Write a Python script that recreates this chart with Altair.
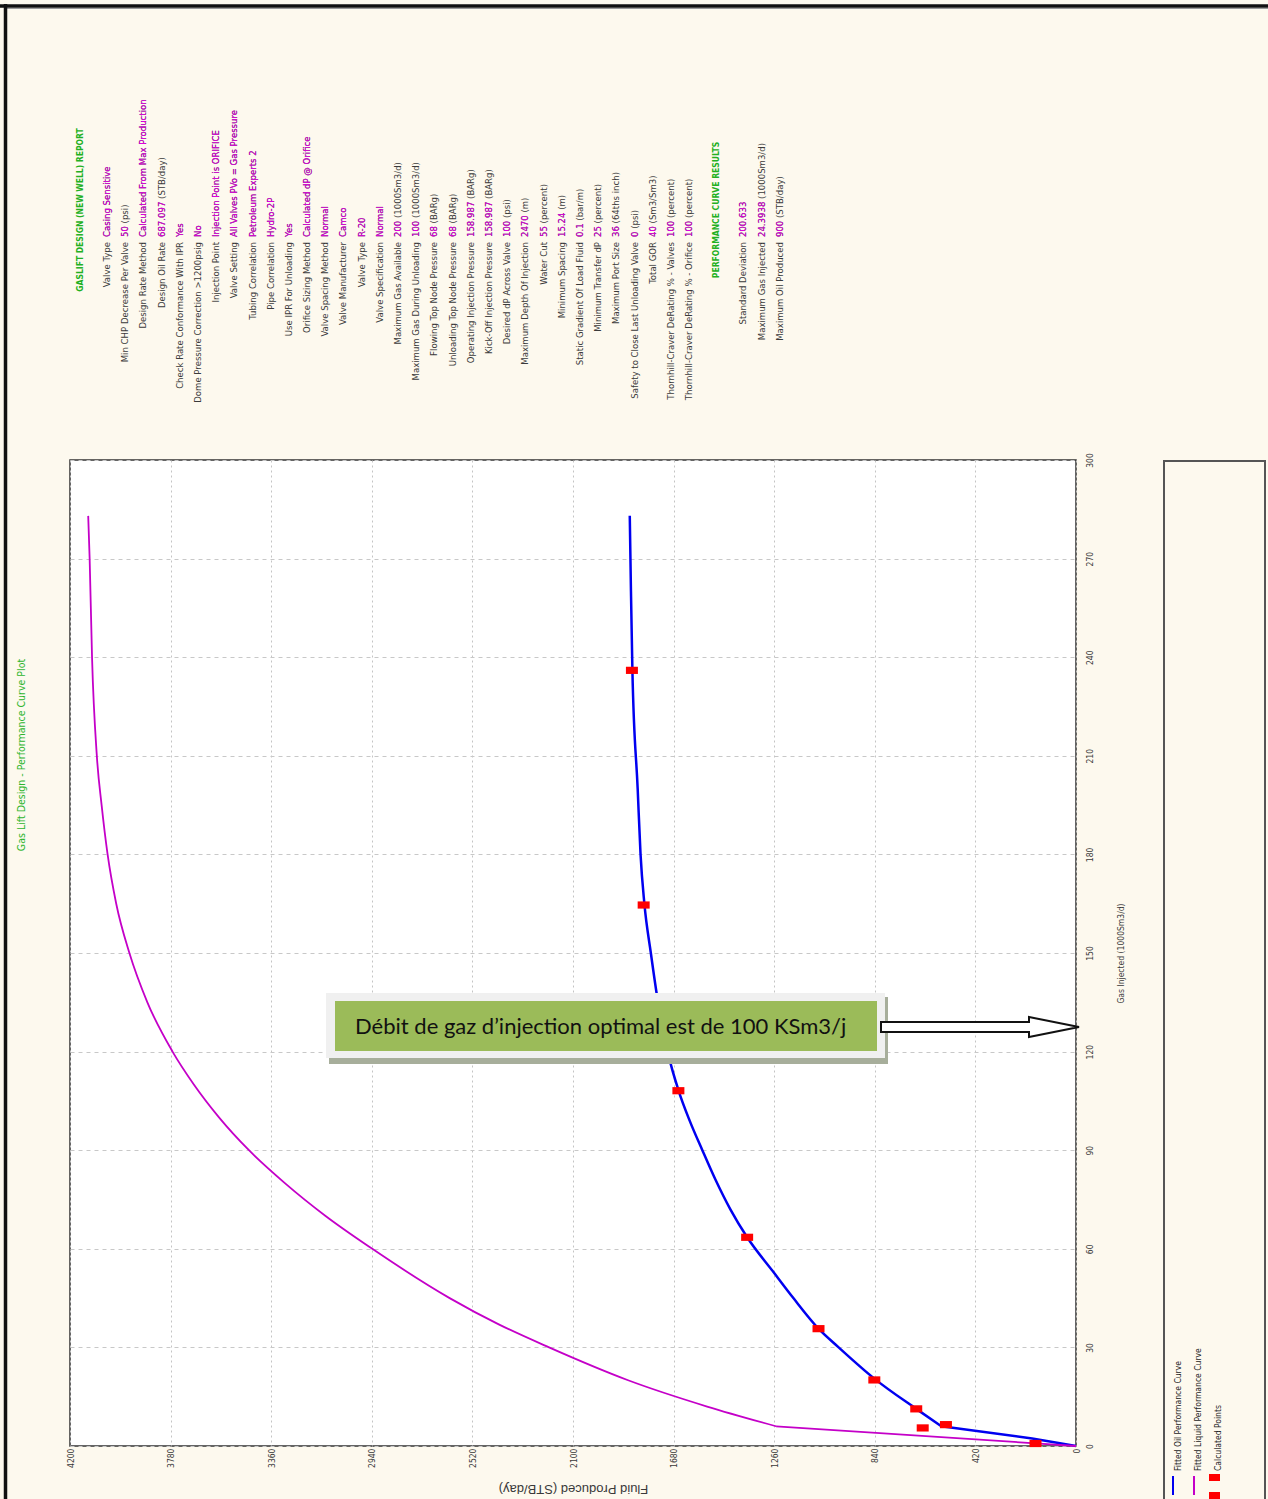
import altair as alt
import pandas as pd

# ---- fitted performance curves (gas injected in 1000Sm3/d, rate in STB/day) ----
oil_gas = [0, 2.3, 6.0, 11.3, 20.5, 30, 35.7, 45, 53, 63.5, 72, 81, 90, 99, 108.3,
           120, 135, 150, 165, 180, 200, 236, 260, 283]
oil_rate = [0, 183, 562, 667, 842, 991, 1075, 1180, 1264, 1373, 1443, 1505, 1560, 1613, 1660,
            1705, 1745, 1775, 1802, 1818, 1830, 1852, 1858, 1863]

liq_gas = [0, 6.0, 12, 20, 30, 37, 45, 60, 70, 80, 90, 100, 110, 120,
           135, 150, 165, 180, 195, 210, 240, 270, 283]
liq_rate = [0, 1252, 1540, 1870, 2200, 2410, 2615, 2938, 3133, 3303, 3453, 3578, 3683, 3772,
            3877, 3952, 4007, 4043, 4068, 4088, 4108, 4118, 4124]

# calculated points
calc_gas = [0.76, 5.5, 6.5, 11.3, 20.1, 35.7, 63.5, 108.1, 164.6, 236]
calc_oil = [169, 640, 543, 667, 842, 1075, 1373, 1660, 1805, 1854]

# first fitted point: the curves are drawn straight from the origin up to it
KNEE_GAS = 6.0

fluid_ticks = [0, 420, 840, 1260, 1680, 2100, 2520, 2940, 3360, 3780, 4200]
gas_ticks = [0, 30, 60, 90, 120, 150, 180, 210, 240, 270, 300]

# ---- report text ----
report_title = "GASLIFT DESIGN (NEW WELL) REPORT"
design_labels = [
    "Valve Type", "Min CHP Decrease Per Valve", "Design Rate Method", "Design Oil Rate",
    "Check Rate Conformance With IPR", "Dome Pressure Correction >1200psig", "Injection Point",
    "Valve Setting", "Tubing Correlation", "Pipe Correlation", "Use IPR For Unloading",
    "Orifice Sizing Method", "Valve Spacing Method", "Valve Manufacturer", "Valve Type",
    "Valve Specification", "Maximum Gas Available", "Maximum Gas During Unloading",
    "Flowing Top Node Pressure", "Unloading Top Node Pressure", "Operating Injection Pressure",
    "Kick-Off Injection Pressure", "Desired dP Across Valve", "Maximum Depth Of Injection",
    "Water Cut", "Minimum Spacing", "Static Gradient Of Load Fluid", "Minimum Transfer dP",
    "Maximum Port Size", "Safety to Close Last Unloading Valve", "Total GOR",
    "Thornhill-Craver DeRating % - Valves", "Thornhill-Craver DeRating % - Orifice",
]
design_values = [
    "Casing Sensitive", "50", "Calculated From Max Production", "687.097", "Yes", "No",
    "Injection Point is ORIFICE", "All Valves PVo = Gas Pressure", "Petroleum Experts 2",
    "Hydro-2P", "Yes", "Calculated dP @ Orifice", "Normal", "Camco", "R-20", "Normal",
    "200", "100", "68", "68", "158.987", "158.987", "100", "2470", "55", "15.24", "0.1",
    "25", "36", "0", "40", "100", "100",
]
design_units = [
    "", "(psi)", "", "(STB/day)", "", "", "", "", "", "", "", "", "", "", "", "",
    "(1000Sm3/d)", "(1000Sm3/d)", "(BARg)", "(BARg)", "(BARg)", "(BARg)", "(psi)", "(m)",
    "(percent)", "(m)", "(bar/m)", "(percent)", "(64ths inch)", "(psi)", "(Sm3/Sm3)",
    "(percent)", "(percent)",
]
results_title = "PERFORMANCE CURVE RESULTS"
result_labels = ["Standard Deviation", "Maximum Gas Injected", "Maximum Oil Produced"]
result_values = ["200.633", "24.3938", "900"]
result_units = ["", "(1000Sm3/d)", "(STB/day)"]

legend_labels = ["Fitted Oil Performance Curve", "Fitted Liquid Performance Curve", "Calculated Points"]
chart_title = "Gas Lift Design - Performance Curve Plot"
note_text = "Débit de gaz d’injection optimal est de 100 KSm3/j"

# ---- layout ----
W, H = 1268, 1499
LEFT, TOP = 70, 460
PLOT_W, PLOT_H = 1006, 986
NARROW = "Liberation Sans Narrow, Arial Narrow, DejaVu Sans Condensed, sans-serif"
BG = "#FDF9EE"
INK = "#3a3a3a"
MAGENTA = "#DE00DE"
GREEN = "#22B022"
OIL_BLUE = "#0000F0"
LIQ_MAGENTA = "#C400C8"
REPORT_SIZE = 9.5


def px(v):
    return v - LEFT


def py(v):
    return v - TOP


one = pd.DataFrame({"n": [0]})

oil_df = pd.DataFrame({"gas": oil_gas, "fluid": oil_rate})
liq_df = pd.DataFrame({"gas": liq_gas, "fluid": liq_rate})
calc_df = pd.DataFrame({"gas": calc_gas, "fluid": calc_oil})

x_enc = alt.X(
    "fluid:Q",
    scale=alt.Scale(domain=[0, 4200], reverse=True, nice=False, zero=True),
    axis=alt.Axis(
        values=fluid_ticks, format="d", title="Fluid Produced   (STB/day)",
        labelAngle=270, labelAlign="right", labelBaseline="middle", labelPadding=2,
        labelFont=NARROW, labelFontSize=8.5, labelColor=INK, labelFlush=False, labelOverlap=False,
        ticks=False, domain=False, grid=True, gridDash=[2, 3], gridColor="#c4c4c4",
        titleAngle=180, titleX=PLOT_W / 2, titleY=42, titleAlign="center",
        titleBaseline="middle", titleFont="Liberation Sans, sans-serif", titleFontSize=13,
        titleFontWeight="normal", titleColor=INK,
    ),
)
y_enc = alt.Y(
    "gas:Q",
    scale=alt.Scale(domain=[0, 300], nice=False, zero=True),
    axis=alt.Axis(
        orient="right", values=gas_ticks, format="d", title="Gas Injected  (1000Sm3/d)",
        labelAngle=270, labelAlign="center", labelBaseline="top", labelPadding=9,
        labelFont=NARROW, labelFontSize=8.5, labelColor=INK, labelFlush=False, labelOverlap=False,
        ticks=False, domain=False, grid=True, gridDash=[4, 4], gridColor="#c8c8c8",
        titleAngle=270, titleX=44, titleY=493, titleAlign="center", titleBaseline="middle",
        titleFont=NARROW, titleFontSize=8.5, titleFontWeight="normal", titleColor=INK,
    ),
)


def curve(df, color, width):
    """Straight run from the origin to the first fitted point, smooth fit beyond it."""
    start = alt.Chart(df).transform_filter(f"datum.gas <= {KNEE_GAS}").mark_line(
        color=color, strokeWidth=width).encode(x=x_enc, y=y_enc, order="gas:Q")
    rest = alt.Chart(df).transform_filter(f"datum.gas >= {KNEE_GAS}").mark_line(
        color=color, strokeWidth=width, interpolate="monotone").encode(
        x=x_enc, y=y_enc, order="gas:Q")
    return [start, rest]


calc_pts = alt.Chart(calc_df).mark_point(
    shape="M-1,-0.6L1,-0.6L1,0.6L-1,0.6Z", size=144, filled=True, color="#FF0000", opacity=1
).encode(x=x_enc, y=y_enc)

# ---- frame around the sheet ----
top_rule = alt.Chart(one).mark_rule(color="#111", strokeWidth=3.5).encode(
    x=alt.value(px(0)), x2=alt.value(px(W)), y=alt.value(py(6)))
top_shade = alt.Chart(one).mark_rule(color="#9a9a9a", strokeWidth=1).encode(
    x=alt.value(px(7)), x2=alt.value(px(W)), y=alt.value(py(8.5)))
left_rule = alt.Chart(one).mark_rule(color="#111", strokeWidth=3.5).encode(
    x=alt.value(px(5.5)), y=alt.value(py(4)), y2=alt.value(py(H)))

# ---- legend box ----
legend_box = alt.Chart(one).mark_rect(fill=BG, stroke="#555", strokeWidth=2).encode(
    x=alt.value(px(1164)), x2=alt.value(px(1265)), y=alt.value(py(461)), y2=alt.value(py(1515)))
leg_df = pd.DataFrame({"label": legend_labels, "i": list(range(len(legend_labels)))})
legend_text = alt.Chart(leg_df).mark_text(
    angle=270, align="left", baseline="middle", font=NARROW, fontSize=8.5, color="#222"
).transform_calculate(cx=f"{px(1178)} + datum.i * 20").encode(
    x=alt.X("cx:Q", scale=None, axis=None), y=alt.value(py(1471)), text="label:N")
leg_oil = alt.Chart(one).mark_rule(color=OIL_BLUE, strokeWidth=2).encode(
    x=alt.value(px(1173)), y=alt.value(py(1476)), y2=alt.value(py(1495)))
leg_liq = alt.Chart(one).mark_rule(color=LIQ_MAGENTA, strokeWidth=2).encode(
    x=alt.value(px(1194)), y=alt.value(py(1476)), y2=alt.value(py(1495)))
leg_pt1 = alt.Chart(one).mark_rect(color="#FF0000").encode(
    x=alt.value(px(1209)), x2=alt.value(px(1220)), y=alt.value(py(1474)), y2=alt.value(py(1481)))
leg_pt2 = alt.Chart(one).mark_rect(color="#FF0000").encode(
    x=alt.value(px(1209)), x2=alt.value(px(1220)), y=alt.value(py(1492)), y2=alt.value(py(1499)))

# ---- chart title on the left ----
title_txt = alt.Chart(one).mark_text(
    text=chart_title, angle=270, align="center", baseline="middle",
    font=NARROW, fontSize=10.5, color="#2DB52D"
).encode(x=alt.value(px(22)), y=alt.value(py(755)))

# ---- report block ----
design = pd.DataFrame({"label": design_labels, "value": design_values, "unit": design_units})
design["row"] = list(range(len(design)))
design["full"] = [v + (" " + u if u else "") for v, u in zip(design_values, design_units)]
results = pd.DataFrame({"label": result_labels, "value": result_values, "unit": result_units})
results["row"] = list(range(len(results)))
results["full"] = [v + (" " + u if u else "") for v, u in zip(result_values, result_units)]


def report_layers(df, x0, step):
    base = alt.Chart(df).transform_calculate(cx=f"{px(x0)} + datum.row * {step}")
    xx = alt.X("cx:Q", scale=None, axis=None)
    style = dict(angle=270, baseline="middle", font=NARROW, fontSize=REPORT_SIZE)
    lab = base.mark_text(align="right", color=INK, **style).encode(
        x=xx, y=alt.value(py(242)), text="label:N")
    full = base.mark_text(align="left", color=INK, **style).encode(
        x=xx, y=alt.value(py(237)), text="full:N")
    val = base.mark_text(align="left", color=MAGENTA, **style).encode(
        x=xx, y=alt.value(py(237)), text="value:N")
    return [lab, full, val]


head_style = dict(angle=270, align="center", baseline="middle", font=NARROW,
                  fontSize=8.5, fontWeight="bold", color=GREEN)
head1 = alt.Chart(one).mark_text(text=report_title, **head_style).encode(
    x=alt.value(px(80)), y=alt.value(py(210)))
head2 = alt.Chart(one).mark_text(text=results_title, **head_style).encode(
    x=alt.value(px(716)), y=alt.value(py(210)))

# ---- annotation box with arrow ----
note_shadow = alt.Chart(one).mark_rect(fill="#A7AE9B").encode(
    x=alt.value(px(329)), x2=alt.value(px(888)), y=alt.value(py(997)), y2=alt.value(py(1064)))
note_frame = alt.Chart(one).mark_rect(fill="#F0F0F0").encode(
    x=alt.value(px(326)), x2=alt.value(px(885)), y=alt.value(py(993)), y2=alt.value(py(1058)))
note_box = alt.Chart(one).mark_rect(fill="#9BBB59").encode(
    x=alt.value(px(335)), x2=alt.value(px(877)), y=alt.value(py(1001)), y2=alt.value(py(1051)))
note_txt = alt.Chart(one).mark_text(
    text=note_text, align="left", baseline="middle", font="Lato, Open Sans, sans-serif",
    fontSize=22, color="#111").encode(x=alt.value(px(355)), y=alt.value(py(1027)))
arrow = alt.Chart(one).mark_point(
    shape="M-1,-0.0505L0.495,-0.0505L0.495,-0.101L1,0L0.495,0.101L0.495,0.0505L-1,0.0505Z",
    size=39204, filled=True, fill="white", stroke="#111", strokeWidth=2, opacity=1,
).encode(x=alt.value(px(980)), y=alt.value(py(1027)))

layers = curve(oil_df, OIL_BLUE, 2.5) + curve(liq_df, LIQ_MAGENTA, 1.8) + [calc_pts]
layers += [note_shadow, note_frame, note_box, note_txt, arrow,
           top_rule, top_shade, left_rule, legend_box, legend_text,
           leg_oil, leg_liq, leg_pt1, leg_pt2, title_txt, head1, head2]
layers += report_layers(design, 107, 18.19)
layers += report_layers(results, 743, 18.5)

chart = alt.layer(*layers).properties(
    width=PLOT_W, height=PLOT_H,
    autosize=alt.AutoSizeParams(type="none"),
    padding={"left": LEFT, "top": TOP, "right": W - LEFT - PLOT_W, "bottom": H - TOP - PLOT_H},
    background=BG,
).configure_view(fill="white", stroke="#333", strokeWidth=1.5)

chart.save("out.html", embed_options={"renderer": "svg", "actions": False})
